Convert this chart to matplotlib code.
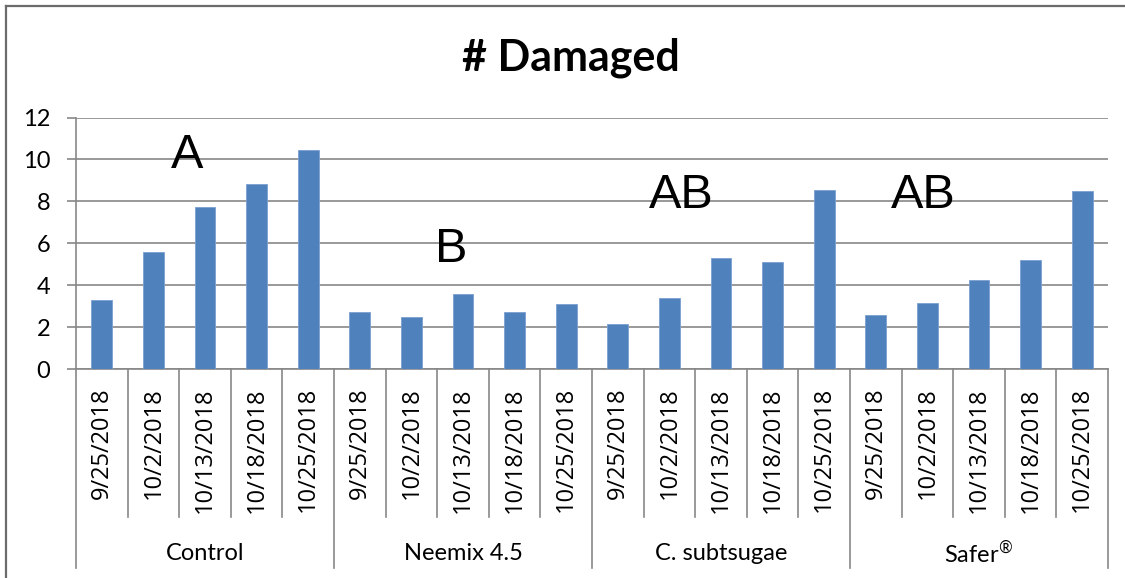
import matplotlib.pyplot as plt
import numpy as np

plt.rcParams['mathtext.fontset'] = 'custom'
plt.rcParams['mathtext.rm'] = 'Lato'

# data
groups = ['Control', 'Neemix 4.5', 'C. subtsugae', 'Safer$^{\\mathrm{®}}$']
dates = ['9/25/2018', '10/2/2018', '10/13/2018', '10/18/2018', '10/25/2018']
control = [3.3, 5.6, 7.75, 8.85, 10.45]
neemix = [2.7, 2.5, 3.6, 2.7, 3.1]
subtsugae = [2.15, 3.4, 5.3, 5.1, 8.55]
safer = [2.6, 3.15, 4.25, 5.2, 8.5]
letters = ['A', 'B', 'AB', 'AB']
letter_x = [1.65, 6.77, 11.24, 15.93]
letter_y = [9.6, 5.1, 7.7, 7.7]

values = control + neemix + subtsugae + safer
labels = dates * len(groups)
x = np.arange(len(values))

blue = '#4F81BD'
grid_c = '#878787'
lab_font = 'Lato'

fig = plt.figure(figsize=(11.25, 5.78), dpi=100)
ax = fig.add_axes([76 / 1125, 1 - 369 / 578, 1032 / 1125, 251.5 / 578])

ax.bar(x, values, width=0.4, color=blue, edgecolor='#7a9fd0', linewidth=0.6, zorder=3)

ax.set_xlim(-0.5, len(values) - 0.5)
ax.set_ylim(0, 12)
ax.set_yticks(range(0, 13, 2))
ax.grid(axis='y', color=grid_c, linewidth=1.2, zorder=0)
for s in ['top', 'right']:
    ax.spines[s].set_visible(False)
ax.spines['left'].set_color(grid_c)
ax.spines['bottom'].set_color(grid_c)
ax.spines['left'].set_linewidth(1.2)
ax.spines['bottom'].set_linewidth(1.2)
ax.tick_params(axis='y', length=6.5, width=1.2, color=grid_c, pad=12,
               labelsize=17)
for t in ax.get_yticklabels():
    t.set_fontfamily(lab_font)

# date labels
ax.set_xticks(x)
ax.set_xticklabels(labels, rotation=90, fontsize=17, family='Open Sans')
ax.tick_params(axis='x', length=0, pad=13)

# separators for the two-level axis
trans = ax.get_xaxis_transform()
for b in np.arange(-0.5, len(values), 1.0):
    is_group = (b + 0.5) % len(dates) == 0
    y_end = -0.791 if is_group else -0.588
    ax.plot([b, b], [0, y_end], color=grid_c, linewidth=1.2, transform=trans, clip_on=False)

for i, g in enumerate(groups):
    cx = i * len(dates) + (len(dates) - 1) / 2
    ax.text(cx, -0.732, g, transform=trans, ha='center', va='center', fontsize=17,
            family=lab_font)

# significance letters
for t, lx, ly in zip(letters, letter_x, letter_y):
    ax.text(lx, ly, t, ha='center', va='baseline', fontsize=35, family='Liberation Sans')

fig.text(571 / 1125, 1 - 71 / 578, '# Damaged', ha='center', va='baseline',
         fontsize=31, fontweight='bold', family=lab_font)

# outer chart frame (extends beyond image on right and bottom)
fig.add_artist(plt.Line2D([6 / 1125, 6 / 1125], [1 - 6 / 578, -0.1], color='#6b6b6b',
                          linewidth=1.6, transform=fig.transFigure))
fig.add_artist(plt.Line2D([6 / 1125, 1.1], [1 - 6 / 578, 1 - 6 / 578], color='#6b6b6b',
                          linewidth=1.6, transform=fig.transFigure))

fig.savefig('out.png', dpi=100)
